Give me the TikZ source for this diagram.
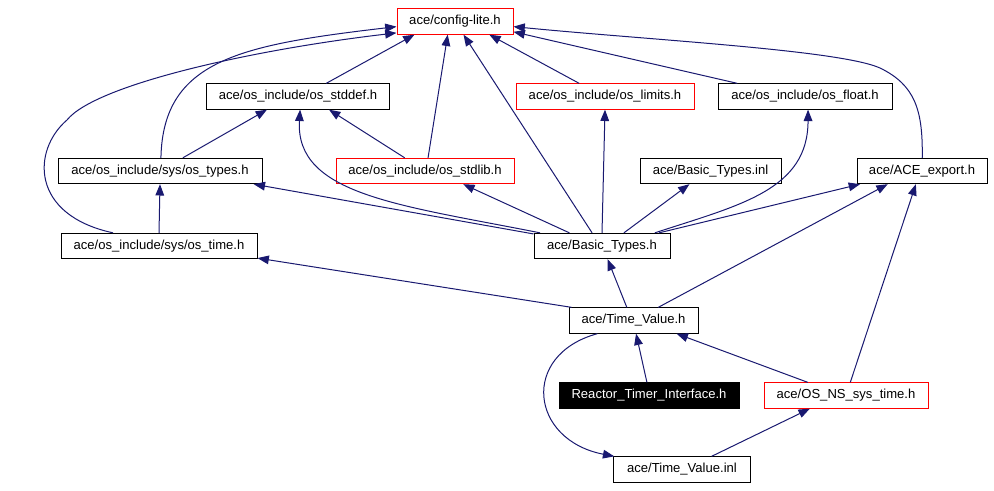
\documentclass[tikz,border=0pt]{standalone}
\usepackage{fontspec}
\setmainfont{Liberation Sans}
\usetikzlibrary{arrows.meta}
\definecolor{edgeblue}{RGB}{25,25,112}
\tikzset{
    file/.style={draw=black, line width=0.75pt, inner sep=0pt, minimum height=19pt,
        font=\fontsize{9.8pt}{11pt}\selectfont},
    redfile/.style={file, draw=red},
    curfile/.style={file, fill=black, text=white},
    incl/.style={draw=edgeblue, line width=0.75pt,
        -{Triangle[length=8.5pt,width=6.5pt]}}
}

\begin{document}
\begin{tikzpicture}[x=0.75pt,y=-0.75pt]
\useasboundingbox (0,0) rectangle (994,490);
\node[style={redfile}, minimum width=87pt] (config) at (455,21.5) {ace/config-lite.h};
\node[style={file}, minimum width=137.25pt] (stddef) at (298,96.5) {ace/os\_include/os\_stddef.h};
\node[style={redfile}, minimum width=133.5pt] (limits) at (605,96.5) {ace/os\_include/os\_limits.h};
\node[style={file}, minimum width=130.5pt] (float) at (805,96.5) {ace/os\_include/os\_float.h};
\node[style={file}, minimum width=153pt] (types) at (160,171) {ace/os\_include/sys/os\_types.h};
\node[style={redfile}, minimum width=133.5pt] (stdlib) at (425,171) {ace/os\_include/os\_stdlib.h};
\node[style={file}, minimum width=105.75pt] (btinl) at (710.5,171) {ace/Basic\_Types.inl};
\node[style={file}, minimum width=97.5pt] (export) at (922,171) {ace/ACE\_export.h};
\node[style={file}, minimum width=147pt] (ostime) at (159,246) {ace/os\_include/sys/os\_time.h};
\node[style={file}, minimum width=102pt] (bt) at (602,246) {ace/Basic\_Types.h};
\node[style={file}, minimum width=96.75pt] (tvh) at (633.5,320.5) {ace/Time\_Value.h};
\node[style={curfile}, minimum width=135pt] (rti) at (649,395.5) {Reactor\_Timer\_Interface.h};
\node[style={redfile}, minimum width=123pt] (osns) at (846,395.5) {ace/OS\_NS\_sys\_time.h};
\node[style={file}, minimum width=102.75pt] (tvinl) at (682,469.5) {ace/Time\_Value.inl};

\draw[style={incl}] (stddef.25) -- (config.198);
\draw[style={incl}] (limits.153) -- (config.339);
\draw[style={incl}] (float.169) -- (config.350);
\draw[style={incl}]
  (types.86) .. controls (163,60) and (240,45) .. (config.185);
\draw[style={incl}]
  (ostime.164) .. controls (30,215) and (32,150) .. (67,120)
  .. controls (95,85) and (250,50) .. (config.191);
\draw[style={incl}]
  (export.89) .. controls (923,110) and (915,85) .. (880,68)
  .. controls (840,50) and (650,40) .. (config.355);
\draw[style={incl}] (stdlib.77) -- (config.241);
\draw[style={incl}] (bt.127) -- (config.303);
\draw[style={incl}] (types.30) -- (stddef.203);
\draw[style={incl}] (stdlib.147) -- (stddef.337);
\draw[style={incl}]
  (bt.168) .. controls (400,205) and (295,195) .. (stddef.279);
\draw[style={incl}] (bt.north) -- (limits.south);
\draw[style={incl}]
  (bt.14) .. controls (740,205) and (808,190) .. (float.283);
\draw[style={incl}] (bt.170) -- (types.352);
\draw[style={incl}] (bt.158) -- (stdlib.341);
\draw[style={incl}] (bt.31) -- (btinl.212);
\draw[style={incl}] (bt.13) -- (export.192);
\draw[style={incl}] (ostime.north) -- (types.south);
\draw[style={incl}] (tvh.168) -- (ostime.353);
\draw[style={incl}] (tvh.117) -- (bt.293);
\draw[style={incl}] (tvh.28) -- (export.201);
\draw[style={incl}] (osns.72) -- (export.245);
\draw[style={incl}] (osns.161) -- (tvh.343);
\draw[style={incl}] (rti.99) -- (tvh.281);
\draw[style={incl}]
  (tvh.200) .. controls (520,355) and (530,440) .. (tvinl.169);
\draw[style={incl}] (tvinl.24) -- (osns.200);
\end{tikzpicture}
\end{document}
